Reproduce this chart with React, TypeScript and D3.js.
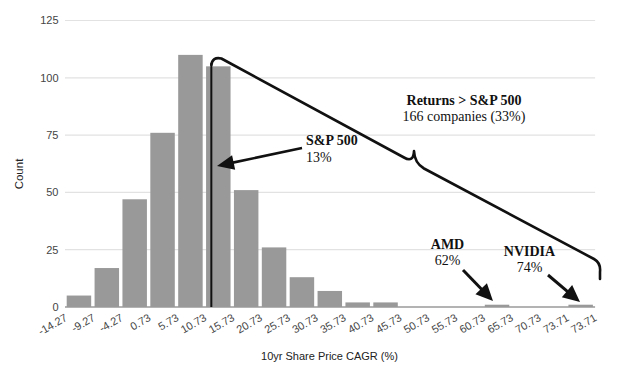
import React from "react";
import * as d3 from "d3";

// ---- data ----
const binEdgeLabels = [
  "-14.27", "-9.27", "-4.27", "0.73", "5.73", "10.73", "15.73", "20.73", "25.73",
  "30.73", "35.73", "40.73", "45.73", "50.73", "55.73", "60.73", "65.73", "70.73",
  "73.71", "73.71",
];
const binCounts = [5, 17, 47, 76, 110, 105, 51, 26, 13, 7, 2, 2, 0, 0, 0, 1, 0, 0, 1];
const yTicks = [0, 25, 50, 75, 100, 125];
const sp500BinPosition = 5.25; // S&P 500 marker position, in bin units from the first edge

// ---- layout ----
const W = 617;
const H = 379;
const plotLeft = 65;
const plotRight = 594.6;
const plotTop = 20.5;
const plotBottom = 307;
const barGap = 1.7;

const sans = "'Liberation Sans', Arial, Helvetica, sans-serif";
const serif = "'Liberation Serif', 'Times New Roman', serif";

function Arrow({ x1, y1, x2, y2, w = 2.6, len = 16, half = 7 }) {
  const dx = x2 - x1;
  const dy = y2 - y1;
  const L = Math.hypot(dx, dy);
  const ux = dx / L;
  const uy = dy / L;
  const bx = x2 - ux * len;
  const by = y2 - uy * len;
  const px = -uy;
  const py = ux;
  const pts = [
    [x2, y2],
    [bx + px * half, by + py * half],
    [bx - px * half, by - py * half],
  ]
    .map((p) => p.join(","))
    .join(" ");
  return (
    <g>
      <line x1={x1} y1={y1} x2={bx + ux * 2} y2={by + uy * 2} stroke="#111" strokeWidth={w} />
      <polygon points={pts} fill="#111" />
    </g>
  );
}

export default function App() {
  const xb = d3.scaleLinear().domain([0, binCounts.length]).range([plotLeft, plotRight]);
  const y = d3.scaleLinear().domain([0, 125]).range([plotBottom, plotTop]);
  const bw = xb(1) - xb(0);

  const spX = xb(sp500BinPosition);

  const brace = d3.path();
  brace.moveTo(spX, 65);
  brace.quadraticCurveTo(spX + 1, 56.5, spX + 10, 58.5);
  brace.lineTo(404, 157.5);
  brace.quadraticCurveTo(413.5, 163, 414, 151);
  brace.quadraticCurveTo(414.5, 163, 424, 168.5);
  brace.lineTo(594, 259);
  brace.quadraticCurveTo(601, 263, 600, 272);
  brace.lineTo(600, 279);

  return (
    <svg
      width={W}
      height={H}
      viewBox={`0 0 ${W} ${H}`}
      style={{ position: "absolute", left: 0, top: 0, background: "#fff" }}
    >
      <rect width={W} height={H} fill="#fff" />
      {/* grid */}
      {yTicks.map((t) =>
        t === 0 ? null : (
          <line key={t} x1={plotLeft} x2={plotRight + 0.5} y1={y(t)} y2={y(t)} stroke="#e2e2e2" strokeWidth={1.2} />
        )
      )}
      {/* y tick labels */}
      {yTicks.map((t) => (
        <text
          key={t}
          x={58.5}
          y={y(t)}
          dy="0.35em"
          textAnchor="end"
          fontFamily={sans}
          fontSize={11}
          fill="#444"
        >
          {t}
        </text>
      ))}
      {/* bars */}
      {binCounts.map((c, i) =>
        c > 0 ? (
          <rect
            key={i}
            x={xb(i) + barGap}
            y={y(c)}
            width={bw - 2 * barGap}
            height={y(0) - y(c)}
            fill="#999999"
          />
        ) : null
      )}
      {/* baseline */}
      <line x1={plotLeft} x2={plotRight + 0.5} y1={plotBottom} y2={plotBottom} stroke="#9a9a9a" strokeWidth={1.6} />
      {/* x tick labels */}
      {binEdgeLabels.map((l, i) => (
        <text
          key={i}
          transform={`translate(${xb(i) + 3},${320}) rotate(-30)`}
          textAnchor="end"
          fontFamily={sans}
          fontSize={11}
          fill="#444"
        >
          {l}
        </text>
      ))}
      {/* axis titles */}
      <text x={329.5} y={360} textAnchor="middle" fontFamily={sans} fontSize={11} fill="#222">
        10yr Share Price CAGR (%)
      </text>
      <text transform="translate(22.5,174) rotate(-90)" textAnchor="middle" fontFamily={sans} fontSize={11.5} fill="#222">
        Count
      </text>

      {/* S&P 500 marker */}
      <line x1={spX} x2={spX} y1={plotBottom} y2={63} stroke="#111" strokeWidth={2} />
      <path d={brace.toString()} fill="none" stroke="#111" strokeWidth={2.6} strokeLinejoin="round" strokeLinecap="round" />

      <Arrow x1={302} y1={148} x2={217} y2={166} w={2.6} len={17} half={7.5} />
      <Arrow x1={463} y1={270} x2={493} y2={301} w={3} len={17} half={8} />
      <Arrow x1={548} y1={275} x2={580} y2={302} w={3} len={17} half={8} />

      {/* annotation texts */}
      <g fontFamily={serif} fill="#111" fontSize={14}>
        <text x={464} y={105} textAnchor="middle" fontWeight="bold">Returns &gt; S&amp;P 500</text>
        <text x={464} y={121} textAnchor="middle">166 companies (33%)</text>
        <text x={306} y={145} fontWeight="bold">S&amp;P 500</text>
        <text x={306} y={162}>13%</text>
        <text x={447.5} y={249} textAnchor="middle" fontWeight="bold">AMD</text>
        <text x={447.5} y={265} textAnchor="middle">62%</text>
        <text x={529.5} y={256} textAnchor="middle" fontWeight="bold">NVIDIA</text>
        <text x={529.5} y={272} textAnchor="middle">74%</text>
      </g>
    </svg>
  );
}
